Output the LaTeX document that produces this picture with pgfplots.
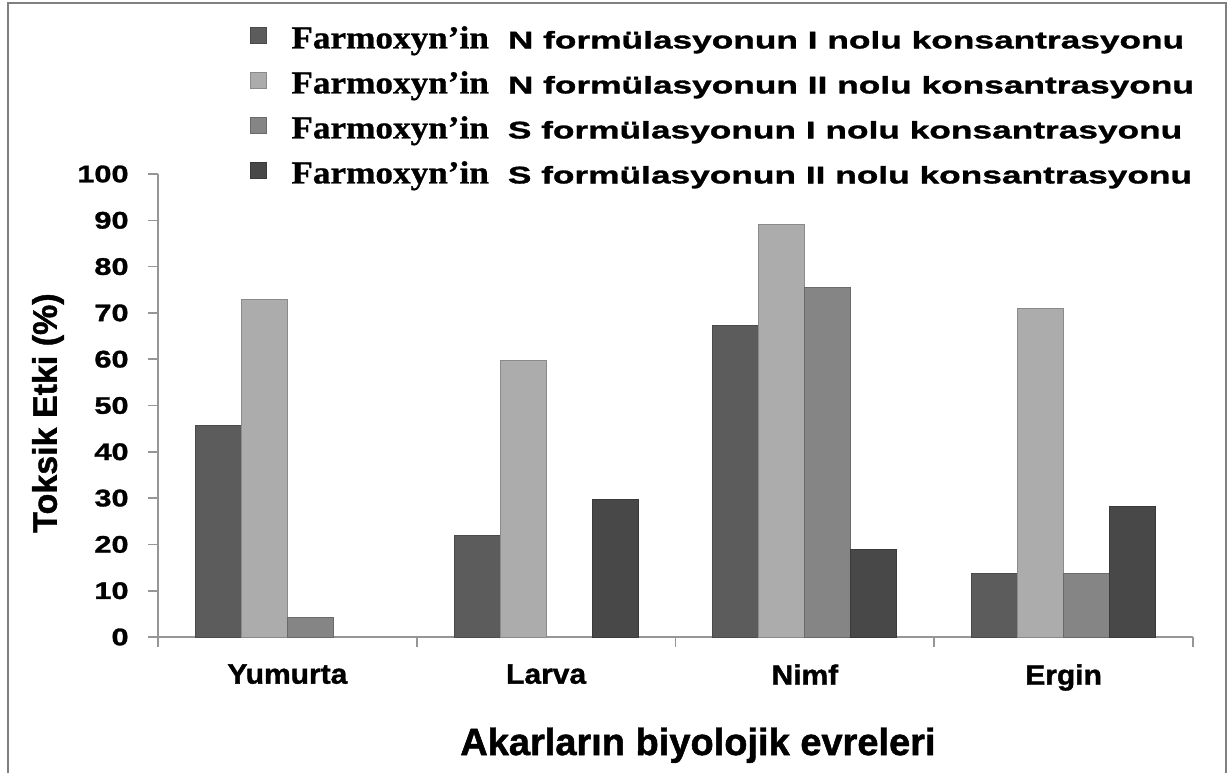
\documentclass[border=0pt]{standalone}
\usepackage{pgfplots}
\pgfplotsset{compat=1.18}
\usepackage{fontspec}
\setmainfont{Liberation Sans}[BoldFeatures={FakeBold=1.3}]
\newfontfamily\tickfont{Liberation Sans}[FakeStretch=1.28, BoldFeatures={FakeBold=1.3}]
\newfontfamily\catfont{Liberation Sans}[FakeStretch=1.07, BoldFeatures={FakeBold=1.3}]
\newfontfamily\legsans{Liberation Sans}[FakeStretch=1.47, BoldFeatures={FakeBold=1.3}]
\newfontfamily\legserif{Liberation Serif}[FakeStretch=1.1, BoldFeatures={FakeBold=0.8}]
\definecolor{cA}{RGB}{92,92,92}
\definecolor{cB}{RGB}{172,172,172}
\definecolor{cC}{RGB}{133,133,133}
\definecolor{cD}{RGB}{72,72,72}
\definecolor{axgray}{RGB}{150,150,150}
\definecolor{framegray}{RGB}{128,128,128}
\pgfplotsset{
  mylegend/.style={legend image code/.code={%
    \path[##1] (0pt,2.5pt) rectangle (8pt,10.5pt);
    \path (0pt,0pt) (20pt,0pt);}},
}
\newcommand{\legtext}[2]{{\legserif\bfseries\fontsize{16}{18}\selectfont Farmoxyn’in}\hspace{9.5pt}{\legsans\bfseries\fontsize{12}{14}\selectfont #1 formülasyonun #2 nolu konsantrasyonu}}
\begin{document}
\begin{tikzpicture}[x=1pt,y=1pt]
\useasboundingbox (0,0) rectangle (614,-386.5);
\draw[framegray, line width=1pt] (4,-386.5) -- (4,-1.5) -- (613,-1.5) -- (613,-386.5);
\begin{axis}[
  at={(79pt,-318.5pt)}, anchor=south west,
  scale only axis, width=517.5pt, height=231.5pt,
  xmin=-0.5, xmax=3.5, ymin=0, ymax=100,
  ytick={0,10,...,100},
  xtick={-0.5,0.5,1.5,2.5,3.5}, xticklabels={},
  extra x ticks={0,1,2,3},
  extra x tick labels={Yumurta,Larva,Nimf,Ergin},
  extra x tick style={major tick length=0pt},
  axis x line*=bottom, axis y line*=left,
  tick align=outside, major tick length=5pt,
  axis line style={axgray, line width=0.8pt},
  tick style={axgray, line width=0.8pt},
  /pgf/number format/assume math mode=true,
  yticklabel style={font=\tickfont\bfseries\fontsize{12}{14}\selectfont, inner sep=0pt, anchor=east, xshift=-9.5pt},
  xticklabel style={font=\catfont\bfseries\fontsize{14}{16}\selectfont, inner sep=0pt, anchor=north, yshift=-13.5pt},
  xlabel={Akarların biyolojik evreleri},
  xlabel style={font=\bfseries\fontsize{19}{22}\selectfont, at={(axis description cs:0.5217,-0.2549)}, anchor=base, inner sep=0pt},
  ylabel={Toksik Etki (\%)},
  ylabel style={font=\bfseries\fontsize{17}{20}\selectfont, at={(axis description cs:-0.1063,0.4838)}, anchor=center, rotate=0, inner sep=0pt},
  ybar=0pt, bar width=23pt,
  legend style={at={(axis description cs:0.0889,1.324)}, anchor=north west, draw=none, fill=none,
    inner sep=0pt, row sep=6.5pt, nodes={inner sep=0pt, text height=12pt, text depth=4pt, anchor=base west}},
  legend cell align=left,
]
\addplot[fill=cA, draw=cA!80!black, line width=0.5pt, mylegend] coordinates {(0,45.6) (1,22.0) (2,67.2) (3,13.8)};
\addplot[fill=cB, draw=cB!80!black, line width=0.5pt, mylegend] coordinates {(0,72.8) (1,59.8) (2,89.0) (3,71.0)};
\addplot[fill=cC, draw=cC!80!black, line width=0.5pt, mylegend] coordinates {(0,4.3) (2,75.4) (3,13.8)};
\addplot[fill=cD, draw=cD!80!black, line width=0.5pt, mylegend] coordinates {(1,29.8) (2,19.0) (3,28.1)};
\legend{\legtext{N}{I},\legtext{N}{II},\legtext{S}{I},\legtext{S}{II}}
\end{axis}
\end{tikzpicture}
\end{document}
